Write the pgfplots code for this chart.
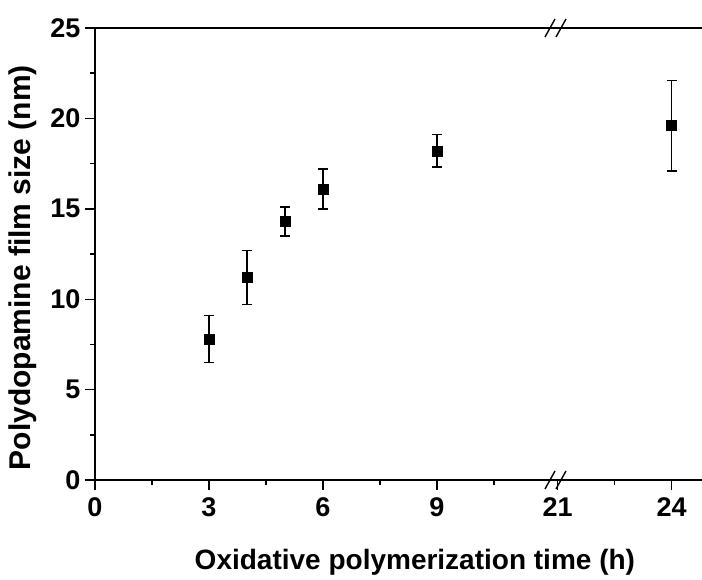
\documentclass[border=0pt]{standalone}
\usepackage{pgfplots}
\pgfplotsset{compat=1.18}
\usepackage{fontspec}
\setmainfont{Liberation Sans}

\begin{document}
\begin{tikzpicture}
\useasboundingbox (-95pt,-99pt) rectangle (607pt,480pt);
\begin{axis}[
    scale only axis,
    width=607pt, height=452pt,
    at={(0,0)}, anchor=south west,
    axis lines=left,
    axis line style={line width=1.6pt, -},
    x coord trafo/.code={\pgfmathparse{#1>15 ? #1-8.82 : #1}},
    xmin=0, xmax=24.8,
    ymin=0, ymax=25,
    xtick={0,3,6,9,21,24},
    xticklabels={0,3,6,9,21,24},
    minor xtick={1.5,4.5,7.5,10.5,22.5},
    ytick={0,5,10,15,20,25},
    minor ytick={2.5,7.5,12.5,17.5,22.5},
    tick align=outside,
    major tick length=10pt,
    minor tick length=5pt,
    tick style={line width=1.4pt, black},
    /pgf/number format/assume math mode=true,
    tick label style={font=\fontsize{27}{29}\selectfont\bfseries},
    xticklabel style={yshift=-4pt},
    yticklabel style={xshift=-1pt},
    xlabel={Oxidative polymerization time (h)},
    ylabel={Polydopamine film size (nm)},
    xlabel style={font=\fontsize{28}{30}\selectfont\bfseries,
        at={([yshift=-89pt]axis description cs:0.527,0)}, anchor=base},
    ylabel style={font=\fontsize{30}{33}\selectfont\bfseries,
        at={([xshift=-64pt]axis description cs:0,0.47)}, anchor=base},
    clip=false,
]
\addplot[
    only marks, mark=square*, mark size=5pt, black,
    error bars/.cd, y dir=both, y explicit,
    error bar style={line width=1.5pt},
    error mark options={rotate=90, mark size=5pt, line width=1.5pt},
] table[x=x, y=y, y error=e] {
x  y    e
3  7.8  1.3
4  11.2 1.5
5  14.3 0.8
6  16.1 1.1
9  18.2 0.9
24 19.6 2.5
};
\draw[line width=1.6pt] (rel axis cs:0,1) -- (rel axis cs:1,1);
\end{axis}
% axis break marks
\foreach \yy in {0pt,452pt}{
  \draw[line width=1.4pt] (450pt,\yy-9pt) -- (460pt,\yy+9pt);
  \draw[line width=1.4pt] (461pt,\yy-9pt) -- (471pt,\yy+9pt);
}
\end{tikzpicture}
\end{document}
